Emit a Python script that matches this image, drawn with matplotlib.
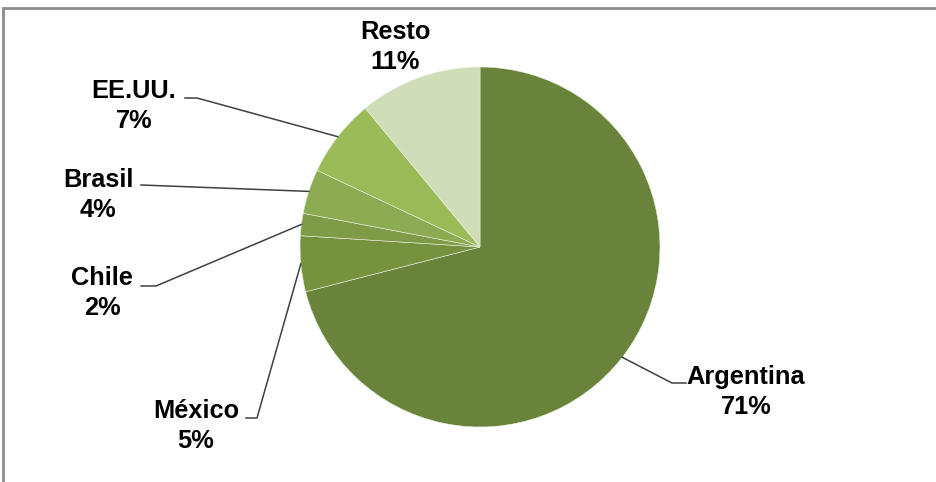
import numpy as np
import matplotlib.pyplot as plt
from matplotlib.patches import Rectangle

plt.rcParams['font.family'] = ['Liberation Sans', 'DejaVu Sans']

paises = ['Argentina', 'México', 'Chile', 'Brasil', 'EE.UU.', 'Resto']
valores = [71, 5, 2, 4, 7, 11]
colores = ['#6a833a', '#77923f', '#809b48', '#8dab52', '#9bbb59', '#d0ddb9']

W, H = 937, 482
fig = plt.figure(figsize=(W / 100, H / 100), dpi=100)
ax = fig.add_axes([0, 0, 1, 1])
ax.set_xlim(0, W)
ax.set_ylim(0, H)
ax.set_aspect('equal')
ax.axis('off')

# marco gris
fig.patches.append(Rectangle((3.5 / W, 0 - 0.05), 1.2, (H - 8) / H + 0.05,
                             transform=fig.transFigure, fill=False,
                             edgecolor='#8c8c8c', linewidth=2))

cx, cy, r = 480, H - 247, 180
ax.pie(valores, colors=colores, startangle=90, counterclock=False,
       center=(cx, cy), radius=r,
       wedgeprops=dict(edgecolor='#e8eedc', linewidth=0.4))
ax.set_xlim(0, W)
ax.set_ylim(0, H)

# posiciones de las etiquetas (pixeles) y codo de la línea guía
etiquetas = {
    'Argentina': dict(xy=(746, 392), codo=[(686, 383), (672, 383)]),
    'México':    dict(xy=(196, 426), codo=[(246, 418), (257, 418)]),
    'Chile':     dict(xy=(102, 293), codo=[(141, 286), (156, 286)]),
    'Brasil':    dict(xy=(98, 195),  codo=[(141, 185)]),
    'EE.UU.':    dict(xy=(134, 106), codo=[(185, 98), (197, 98)]),
    'Resto':     dict(xy=(395, 47),  codo=None),
}

total = sum(valores)
acum = 0
for p, v in zip(paises, valores):
    medio = acum + v / 2
    acum += v
    ang = np.deg2rad(90 - 360 * medio / total)
    px, py = cx + r * np.cos(ang), cy + r * np.sin(ang)
    e = etiquetas[p]
    tx, ty = e['xy']
    ax.text(tx, H - ty, f'{p}\n{v}%', ha='center', va='center',
            fontsize=18.3, fontweight='bold', linespacing=1.33, color='black')
    if e['codo']:
        xs = [c[0] for c in e['codo']] + [px]
        ys = [H - c[1] for c in e['codo']] + [py]
        ax.plot(xs, ys, color='#404040', linewidth=1.1)

fig.savefig('out.png', dpi=100)
